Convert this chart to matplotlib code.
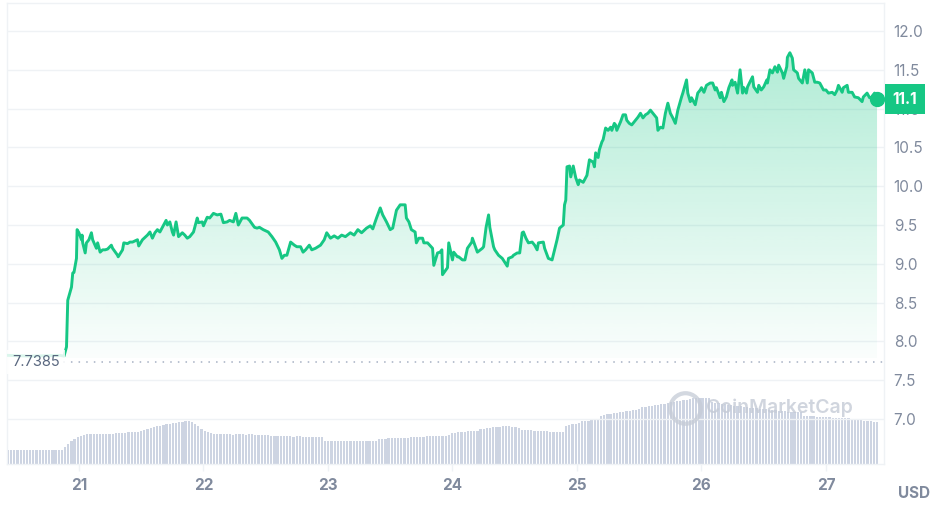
import numpy as np
import matplotlib
matplotlib.use("Agg")
from matplotlib import pyplot as plt
from matplotlib.patches import Polygon
from matplotlib import transforms

plt.rcParams['font.family'] = ['Inter', 'DejaVu Sans']

# price data (day of month, USD)
days = [20.43, 20.61, 20.85, 20.88, 20.90, 20.91, 20.94, 20.95, 20.96, 20.98, 20.985,
        21.00, 21.02, 21.025, 21.03, 21.05, 21.06, 21.08, 21.10, 21.11, 21.14, 21.15,
        21.17, 21.19, 21.21, 21.23, 21.26, 21.27, 21.31, 21.315, 21.35, 21.36, 21.39,
        21.41, 21.43, 21.47, 21.48, 21.51, 21.55, 21.57, 21.59, 21.61, 21.63, 21.65,
        21.67, 21.70, 21.71, 21.73, 21.75, 21.76, 21.78, 21.80, 21.83, 21.85, 21.87,
        21.89, 21.92, 21.95, 21.96, 21.99, 22.00, 22.03, 22.05, 22.08, 22.11, 22.14,
        22.16, 22.19, 22.21, 22.24, 22.26, 22.28, 22.31, 22.35, 22.37, 22.41, 22.43,
        22.45, 22.48, 22.52, 22.55, 22.58, 22.61, 22.63, 22.65, 22.67, 22.70, 22.73,
        22.75, 22.78, 22.80, 22.82, 22.85, 22.87, 22.90, 22.94, 22.97, 22.99, 23.02,
        23.05, 23.08, 23.11, 23.14, 23.18, 23.21, 23.24, 23.27, 23.31, 23.34, 23.36,
        23.39, 23.42, 23.44, 23.47, 23.50, 23.52, 23.55, 23.58, 23.62, 23.63, 23.65,
        23.67, 23.70, 23.71, 23.73, 23.76, 23.77, 23.80, 23.84, 23.85, 23.88, 23.90,
        23.915, 23.92, 23.96, 23.97, 24.00, 24.01, 24.04, 24.05, 24.08, 24.10, 24.12,
        24.155, 24.16, 24.18, 24.20, 24.24, 24.25, 24.27, 24.29, 24.30, 24.33, 24.34,
        24.37, 24.40, 24.42, 24.44, 24.45, 24.48, 24.49, 24.52, 24.54, 24.56, 24.57,
        24.59, 24.61, 24.64, 24.66, 24.68, 24.69, 24.73, 24.74, 24.77, 24.80, 24.82,
        24.84, 24.86, 24.89, 24.90, 24.91, 24.92, 24.94, 24.95, 24.97, 24.99, 25.01,
        25.02, 25.05, 25.06, 25.08, 25.10, 25.13, 25.14, 25.15, 25.17, 25.18, 25.20,
        25.21, 25.23, 25.25, 25.27, 25.28, 25.30, 25.31, 25.32, 25.35, 25.37, 25.39,
        25.40, 25.42, 25.44, 25.47, 25.49, 25.51, 25.53, 25.55, 25.57, 25.59, 25.61,
        25.64, 25.65, 25.67, 25.69, 25.71, 25.73, 25.75, 25.77, 25.79, 25.81, 25.84,
        25.85, 25.88, 25.89, 25.91, 25.92, 25.95, 25.97, 25.99, 26.00, 26.02, 26.04,
        26.07, 26.09, 26.11, 26.12, 26.15, 26.16, 26.18, 26.20, 26.22, 26.245, 26.25,
        26.27, 26.29, 26.31, 26.33, 26.34, 26.36, 26.37, 26.41, 26.42, 26.45, 26.46,
        26.48, 26.50, 26.525, 26.53, 26.55, 26.57, 26.59, 26.61, 26.62, 26.65, 26.66,
        26.685, 26.69, 26.71, 26.73, 26.74, 26.77, 26.78, 26.81, 26.83, 26.85, 26.86,
        26.89, 26.91, 26.93, 26.95, 26.98, 27.00, 27.02, 27.05, 27.07, 27.09, 27.10,
        27.13, 27.14, 27.17, 27.18, 27.21, 27.23, 27.26, 27.29, 27.30, 27.33, 27.35,
        27.37, 27.39, 27.41]
prices = [7.82, 7.81, 7.82, 7.81, 7.93, 8.53, 8.70, 8.88, 8.89, 9.07, 9.44,
          9.40, 9.31, 9.37, 9.27, 9.14, 9.27, 9.31, 9.40, 9.31, 9.20, 9.27,
          9.15, 9.18, 9.18, 9.19, 9.24, 9.20, 9.11, 9.09, 9.18, 9.27, 9.26,
          9.28, 9.28, 9.31, 9.23, 9.31, 9.37, 9.41, 9.33, 9.40, 9.44, 9.41,
          9.47, 9.56, 9.50, 9.54, 9.41, 9.37, 9.54, 9.35, 9.40, 9.37, 9.33,
          9.35, 9.41, 9.59, 9.53, 9.54, 9.49, 9.60, 9.59, 9.65, 9.63, 9.64,
          9.53, 9.54, 9.56, 9.54, 9.65, 9.50, 9.59, 9.59, 9.56, 9.47, 9.46,
          9.47, 9.44, 9.41, 9.35, 9.28, 9.18, 9.07, 9.11, 9.11, 9.28, 9.24,
          9.22, 9.22, 9.15, 9.18, 9.24, 9.18, 9.20, 9.24, 9.31, 9.40, 9.33,
          9.36, 9.33, 9.37, 9.35, 9.40, 9.37, 9.44, 9.40, 9.46, 9.49, 9.45,
          9.59, 9.72, 9.63, 9.54, 9.44, 9.46, 9.69, 9.76, 9.76, 9.59, 9.54,
          9.44, 9.41, 9.27, 9.33, 9.33, 9.27, 9.27, 9.20, 8.98, 9.14, 9.15,
          9.18, 8.86, 8.95, 9.27, 9.05, 9.15, 9.09, 9.09, 9.05, 9.05, 9.20,
          9.28, 9.33, 9.24, 9.15, 9.20, 9.22, 9.47, 9.63, 9.47, 9.22, 9.18,
          9.11, 9.07, 9.02, 8.97, 9.07, 9.09, 9.11, 9.14, 9.14, 9.40, 9.41,
          9.33, 9.27, 9.28, 9.24, 9.18, 9.27, 9.28, 9.20, 9.07, 9.05, 9.18,
          9.31, 9.46, 9.50, 9.76, 9.82, 10.25, 10.26, 10.12, 10.26, 10.11, 10.02,
          10.08, 10.05, 10.08, 10.14, 10.34, 10.31, 10.25, 10.43, 10.37, 10.47, 10.57,
          10.60, 10.75, 10.72, 10.76, 10.72, 10.81, 10.79, 10.72, 10.83, 10.92, 10.92,
          10.85, 10.81, 10.79, 10.85, 10.89, 10.94, 10.88, 10.92, 10.94, 10.98, 10.94,
          10.88, 10.72, 10.76, 10.75, 10.94, 11.07, 10.94, 10.88, 10.81, 10.98, 11.15,
          11.20, 11.37, 11.20, 11.09, 11.14, 11.05, 11.20, 11.24, 11.27, 11.21, 11.30,
          11.33, 11.33, 11.24, 11.27, 11.14, 11.21, 11.09, 11.15, 11.27, 11.37, 11.30,
          11.34, 11.20, 11.50, 11.20, 11.27, 11.20, 11.28, 11.41, 11.28, 11.21, 11.30,
          11.24, 11.28, 11.37, 11.33, 11.50, 11.46, 11.54, 11.47, 11.56, 11.46, 11.39,
          11.54, 11.66, 11.72, 11.65, 11.50, 11.46, 11.39, 11.33, 11.50, 11.33, 11.50,
          11.46, 11.34, 11.34, 11.33, 11.24, 11.24, 11.20, 11.21, 11.18, 11.24, 11.30,
          11.21, 11.27, 11.30, 11.21, 11.21, 11.15, 11.14, 11.09, 11.15, 11.20, 11.14,
          11.15, 11.20, 11.12]

# volume (millions USD), one bar per ~37 min
volume = [14] * 18 + [17, 20, 23, 25, 27, 28, 29] + [30] * 9 + [31] * 4 + [32] * 4 + \
         [33, 34, 35, 36, 37, 38, 38, 39, 40, 40, 41, 41, 42, 42, 43, 43, 42, 40, 38, 35,
          33, 32, 31] + \
         [30, 30, 30, 30, 30, 30, 29, 30, 30, 30, 29, 30, 30, 29, 29] + \
         [29, 29, 29, 28, 28, 28, 28, 28, 28, 28, 27, 28, 28] + [27] * 7 + [23] * 17 + \
         [25, 25, 25, 26, 26, 26, 26, 26, 26, 26] + \
         [27, 27, 27, 27, 27, 28, 28, 28, 28, 28, 28, 28, 29] + \
         [31, 31, 32, 32, 32, 33, 33, 33, 33] + \
         [35, 35, 36, 36, 37, 37, 37, 38, 38, 38, 37, 37, 36] + \
         [34, 34, 34, 34, 33, 33, 33, 33, 33, 32, 32, 32, 32, 32] + \
         [38, 39, 40, 40, 41] + [43, 43, 43, 44, 44, 45] + \
         [48, 49, 50, 50, 51, 51, 52, 52, 53, 53, 54, 54, 55] + \
         [57, 57, 58, 58, 59, 59, 60, 60, 61, 62, 62, 63, 63, 64, 64, 65] + [66] * 6 + \
         [62, 61, 61, 60, 60, 59, 59, 58, 58, 58, 57, 57, 56, 56, 56, 55, 55, 55, 54, 54,
          54, 53, 53, 53, 52, 52, 52, 52, 52] + \
         [48, 48, 48, 48, 47, 47, 47, 47, 47, 46, 46, 46, 46, 46, 46] + \
         [45, 45, 44, 44, 43, 43, 43, 42, 42]

open_price = 7.7385
last_price = prices[-1]
x_ticks = [21, 22, 23, 24, 25, 26, 27]
y_ticks = [7.0, 7.5, 8.0, 8.5, 9.0, 9.5, 10.0, 10.5, 11.0, 11.5, 12.0]

green = '#16c784'
label_gray = '#808a9d'

fig = plt.figure(figsize=(9.37, 5.08), dpi=100)
ax = fig.add_axes([7 / 937, 44 / 508, 877 / 937, 461 / 508])
ax_vol = ax.twinx()
ax.set_zorder(2)
ax.patch.set_visible(False)
ax_vol.set_zorder(1)

xmin, xmax = 20.422, 27.466
ymin, ymax = 6.42, 12.361

# volume bars
vt = np.linspace(days[0], days[-1], len(volume))
step = vt[1] - vt[0]
ax_vol.bar(vt, volume, width=step * 0.7, color='#cdd4e2', linewidth=0)
ax_vol.set_ylim(0, 461)
ax_vol.set_yticks([])
for s in ax_vol.spines.values():
    s.set_visible(False)

# grid
for yv in y_ticks:
    ax.axhline(yv, color='#eff2f5', lw=1, zorder=0)

# gradient fill under the price line
base = 7.78
top_g = 11.8
grad = np.zeros((256, 1, 4))
rgb = matplotlib.colors.to_rgb(green)
grad[:, 0, 0], grad[:, 0, 1], grad[:, 0, 2] = rgb
grad[:, 0, 3] = np.linspace(0.02, 0.34, 256)
im = ax.imshow(grad, extent=[xmin, xmax, base, top_g], origin='lower',
               aspect='auto', zorder=1, interpolation='bilinear')
poly = Polygon(np.column_stack([[days[0]] + days + [days[-1]],
                                [base] + prices + [base]]),
               closed=True, facecolor='none', edgecolor='none')
ax.add_patch(poly)
im.set_clip_path(poly)
ax.set_xlim(xmin, xmax)
ax.set_ylim(ymin, ymax)

# price line
ax.plot(days, prices, color=green, lw=2.1, zorder=3, solid_joinstyle='round')
ax.plot([days[-1]], [last_price], 'o', color=green, ms=10, zorder=4)

# open price reference
ax.axhline(open_price, xmin=(20.755 - xmin) / (xmax - xmin), color='#a6b0c3',
           lw=1.1, ls=(0, (1, 4)), zorder=2)
ax.text(20.462, open_price, '7.7385', color='#58667e', fontsize=10.5,
        va='center', ha='left', zorder=5,
        bbox=dict(boxstyle='square,pad=0.35', fc='white', ec='none', alpha=0.85))

# axes styling
for side in ['left', 'top', 'right', 'bottom']:
    ax.spines[side].set_color('#eff2f5')
    ax.spines[side].set_linewidth(1)
ax.yaxis.tick_right()
ax.set_yticks(y_ticks)
ax.set_yticklabels(['%.1f' % v for v in y_ticks])
ax.tick_params(axis='y', length=0, pad=7, labelsize=11, labelcolor=label_gray)
ax.set_xticks(x_ticks)
ax.set_xticklabels([str(v) for v in x_ticks], fontweight='bold')
ax.tick_params(axis='x', length=5, width=1, color='#eff2f5', pad=5,
               labelsize=11, labelcolor=label_gray)

# current price tag, sitting just right of the plot
trans = transforms.blended_transform_factory(ax.transAxes, ax.transData)
ax.annotate('11.1', xy=(1.0, last_price), xycoords=trans,
            xytext=(6, 0), textcoords='offset points', ha='left', va='center',
            color='white', fontsize=11, fontweight='bold', zorder=6,
            annotation_clip=False,
            bbox=dict(boxstyle='square,pad=0.5', fc=green, ec='none'))

# watermark
ax.plot([25.87], [7.14], 'o', ms=22, mfc='none', mec='#c5cbd6', mew=3,
        alpha=0.75, zorder=6)
ax.text(26.04, 7.14, 'CoinMarketCap', fontsize=14, fontweight='semibold',
        color='#c5cbd6', alpha=0.8, ha='left', va='center', zorder=6)

fig.text(898 / 937, 1 - 493 / 508, 'USD', color=label_gray, fontsize=11,
         fontweight='bold', ha='left', va='center')

fig.savefig('out.png', dpi=100)
